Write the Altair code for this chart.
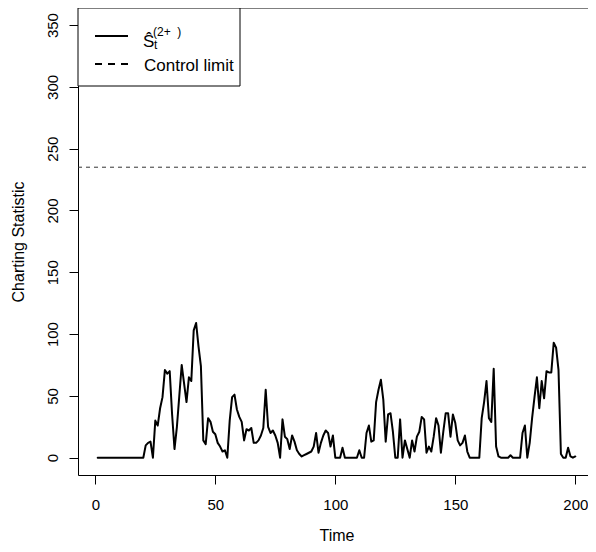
import altair as alt
import pandas as pd

# ---- data -------------------------------------------------------------
time = list(range(1, 201))
statistic = [
    0, 0, 0, 0, 0, 0, 0, 0, 0, 0,
    0, 0, 0, 0, 0, 0, 0, 0, 0, 0,
    10, 12, 13, 0, 30, 26, 40, 49, 71, 68,
    70, 35, 7, 25, 50, 75, 60, 45, 65, 62,
    103, 109, 90, 74, 14, 11, 32, 29, 21, 19,
    12, 9, 5, 6, 0, 30, 49, 51, 39, 33,
    29, 14, 23, 22, 24, 12, 12, 14, 18, 24,
    55, 25, 20, 22, 18, 12, 0, 31, 17, 15,
    7, 18, 13, 6, 3, 1, 2, 3, 4, 5,
    9, 20, 4, 12, 18, 22, 20, 9, 18, 0,
    0, 0, 8, 0, 0, 0, 0, 0, 0, 6,
    0, 0, 20, 26, 13, 14, 45, 55, 63, 47,
    13, 35, 36, 21, 0, 0, 31, 0, 14, 7,
    0, 14, 5, 17, 21, 33, 31, 4, 9, 5,
    17, 32, 26, 4, 21, 36, 36, 17, 35, 28,
    14, 10, 12, 18, 5, 0, 0, 0, 0, 0,
    32, 45, 62, 32, 29, 72, 9, 1, 0, 0,
    0, 0, 2, 0, 0, 0, 0, 20, 26, 0,
    12, 32, 49, 65, 40, 62, 48, 70, 69, 69,
    93, 89, 71, 3, 0, 0, 8, 1, 0, 1,
]
control_limit = [235]
x_ticks = [0, 50, 100, 150, 200]
y_ticks = [0, 50, 100, 150, 200, 250, 300, 350]
legend_main = ["\u015c"]
legend_sub = ["t"]
legend_sup = ["(2+\u00a0\u00a0)"]
legend_cl = ["Control limit"]

FONT = "Liberation Sans, Arial, Helvetica, sans-serif"
LEFT = 70                 # plot starts at x = 8 + 70 = 78
W, H = 510, 467
X0, XPX = -7.21, 2.40     # x value at left edge, pixels per unit
X1 = X0 + W / XPX

df = pd.DataFrame({"t": time, "v": statistic})
cl_df = pd.DataFrame({"cl": control_limit})
one = pd.DataFrame({"k": [0]})

xscale = alt.Scale(domain=[X0, X1], nice=False, zero=False)
yscale = alt.Scale(domain=[-14, 363.8], nice=False, zero=False)

# centre of the R plot region (-6.96 .. 207.96)
time_title_x = (100.5 - X0) * XPX

line = alt.Chart(df).mark_line(
    color="black", strokeWidth=2, strokeJoin="round", strokeCap="round"
).encode(
    x=alt.X("t:Q", scale=xscale, axis=alt.Axis(
        values=x_ticks, title="Time", grid=False, tickSize=9,
        tickColor="black", domainColor="black", labelColor="black",
        labelFont=FONT, labelFontSize=15, labelPadding=13,
        labelFlush=False, labelOverlap=False, labelBound=False,
        titleFont=FONT, titleFontSize=16, titleFontWeight="normal",
        titleColor="black", titleX=time_title_x, titleY=65,
        titleBaseline="alphabetic", titleAlign="center")),
    y=alt.Y("v:Q", scale=yscale, axis=alt.Axis(
        values=y_ticks, title="Charting Statistic", grid=False, tickSize=9,
        tickColor="black", domainColor="black", labelColor="black",
        labelFont=FONT, labelFontSize=15, labelPadding=9,
        labelAngle=270, labelAlign="center", labelBaseline="bottom",
        labelFlush=False, labelOverlap=False, labelBound=False,
        titleFont=FONT, titleFontSize=16, titleFontWeight="normal",
        titleColor="black", titleAngle=270, titleX=-52, titleY=H / 2,
        titleBaseline="bottom", titleAlign="center")),
)

cl_rule = alt.Chart(cl_df).mark_rule(
    color="#333333", strokeWidth=1, strokeDash=[4, 4]
).encode(y=alt.Y("cl:Q", scale=yscale), x=alt.value(0), x2=alt.value(W))

top_border = alt.Chart(one).mark_rule(color="black", strokeWidth=1).encode(
    x=alt.value(0), x2=alt.value(W), y=alt.value(0)
)

legend_box = alt.Chart(one).mark_rect(
    fill="white", stroke="black", strokeWidth=1
).encode(x=alt.value(0), x2=alt.value(162), y=alt.value(0), y2=alt.value(78))

legend_solid = alt.Chart(one).mark_rule(color="black", strokeWidth=2).encode(
    x=alt.value(17), x2=alt.value(50), y=alt.value(28)
)
legend_dash = alt.Chart(one).mark_rule(
    color="black", strokeWidth=2, strokeDash=[7, 6]
).encode(x=alt.value(17), x2=alt.value(50), y=alt.value(56))


def legend_text(labels, x, y, size):
    return alt.Chart(pd.DataFrame({"label": labels})).mark_text(
        align="left", baseline="alphabetic", font=FONT, fontSize=size,
        color="black"
    ).encode(x=alt.value(x), y=alt.value(y), text=alt.Text("label:N"))


chart = alt.layer(
    line,
    cl_rule,
    top_border,
    legend_box,
    legend_solid,
    legend_dash,
    legend_text(legend_main, 65, 39, 17),
    legend_text(legend_sub, 76, 41, 12),
    legend_text(legend_sup, 75, 27.5, 12),
    legend_text(legend_cl, 66, 62.7, 17),
).properties(
    width=W, height=H, autosize="none",
    padding={"left": LEFT, "top": 0, "right": 0, "bottom": 69},
).configure_view(stroke="transparent")

chart.save("out.html", embed_options={"renderer": "svg", "actions": False})
